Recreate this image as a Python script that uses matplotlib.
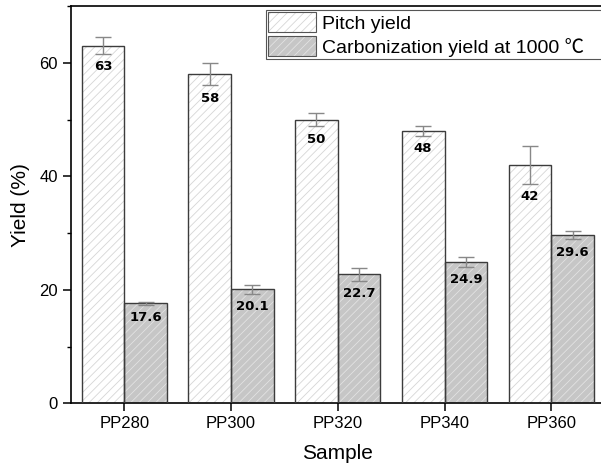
import matplotlib
matplotlib.use("Agg")
import matplotlib.pyplot as plt
from matplotlib.patches import Patch
from matplotlib.legend_handler import HandlerTuple
from matplotlib.ticker import MultipleLocator
import numpy as np

samples = ["PP280", "PP300", "PP320", "PP340", "PP360"]
pitch_yield = [63, 58, 50, 48, 42]
pitch_err = [1.5, 2.0, 1.2, 0.85, 3.4]
carbon_yield = [17.6, 20.1, 22.7, 24.9, 29.6]
carbon_err = [0.3, 0.8, 1.1, 0.85, 0.7]
legend_labels = ["Pitch yield", "Carbonization yield at 1000 \u2103"]

plt.rcParams['font.family'] = ['Liberation Sans', 'Noto Sans CJK SC', 'DejaVu Sans']
plt.rcParams['hatch.linewidth'] = 0.6

fig = plt.figure(figsize=(6.01, 4.67), dpi=100)
ax = fig.add_axes([71/601, (467-403.3)/467, 533.6/601, 397.3/467])

x = np.arange(len(samples))
w = 0.4
edge = '#3c3c3c'

pitch_face, pitch_hatch = 'white', '#d6d6d6'
carb_face, carb_hatch = '#c6c6c6', '#e2e2e2'
hatch = '////'

# hatch layer
ax.bar(x - w/2, pitch_yield, w, color=pitch_face, edgecolor=pitch_hatch, hatch=hatch, linewidth=0, zorder=2)
ax.bar(x + w/2, carbon_yield, w, color=carb_face, edgecolor=carb_hatch, hatch=hatch, linewidth=0, zorder=2)
# outline layer
ax.bar(x - w/2, pitch_yield, w, fill=False, edgecolor=edge, linewidth=1.0, zorder=3)
ax.bar(x + w/2, carbon_yield, w, fill=False, edgecolor=edge, linewidth=1.0, zorder=3)

ax.errorbar(x - w/2, pitch_yield, yerr=pitch_err, fmt='none', ecolor='#888888',
            elinewidth=1.0, capsize=5.5, capthick=1.0, zorder=4)
ax.errorbar(x + w/2, carbon_yield, yerr=carbon_err, fmt='none', ecolor='#888888',
            elinewidth=1.0, capsize=5.5, capthick=1.0, zorder=4)

for xi, v, e in zip(x - w/2, pitch_yield, pitch_err):
    ax.annotate(f"{v:g}", (xi, v - e), xytext=(0, -4.5), textcoords='offset points',
                ha='center', va='top', fontsize=9.5, fontweight='bold',
                family='DejaVu Sans', zorder=5)
for xi, v, e in zip(x + w/2, carbon_yield, carbon_err):
    ax.annotate(f"{v:g}", (xi, v - e), xytext=(0, -4.5), textcoords='offset points',
                ha='center', va='top', fontsize=9.5, fontweight='bold',
                family='DejaVu Sans', zorder=5)

ax.set_xlim(-0.5, 4.5)
ax.set_ylim(0, 70)
ax.set_xticks(x)
ax.set_xticklabels(samples)
ax.set_yticks([0, 20, 40, 60])
ax.yaxis.set_minor_locator(MultipleLocator(10))
ax.tick_params(axis='both', which='major', direction='out', length=5.8, width=1.1, labelsize=12)
ax.tick_params(axis='y', which='minor', direction='out', length=3, width=1.0)
ax.tick_params(axis='x', which='minor', bottom=False)
for s in ['left', 'bottom', 'top', 'right']:
    ax.spines[s].set_linewidth(1.2)
    ax.spines[s].set_color('black')

ax.set_xlabel("Sample", fontsize=15, labelpad=9)
ax.set_ylabel("Yield (%)", fontsize=15, labelpad=7)

h1 = (Patch(facecolor=pitch_face, edgecolor=pitch_hatch, hatch=hatch, linewidth=0),
      Patch(fill=False, edgecolor='#555555', linewidth=0.8))
h2 = (Patch(facecolor=carb_face, edgecolor=carb_hatch, hatch=hatch, linewidth=0),
      Patch(fill=False, edgecolor='#555555', linewidth=0.8))
ax_w, ax_h = 533.6, 397.3
x0 = (266 - 71) / ax_w
x1 = (602 - 71) / ax_w
ytop = (403.3 - 10) / ax_h
ybot = (403.3 - 62) / ax_h
leg = ax.legend([h1, h2], legend_labels, loc='upper left', mode='expand',
                handler_map={tuple: HandlerTuple(ndivide=1, pad=0)},
                bbox_to_anchor=(x0, ybot, x1 - x0, ytop - ybot),
                borderaxespad=0, fontsize=14, handlelength=2.45, handleheight=1.15,
                handletextpad=0.3, borderpad=0.12, labelspacing=0.2,
                fancybox=False, framealpha=1, edgecolor='#555555')
leg.get_frame().set_linewidth(0.8)

fig.savefig("out.png", dpi=100)
